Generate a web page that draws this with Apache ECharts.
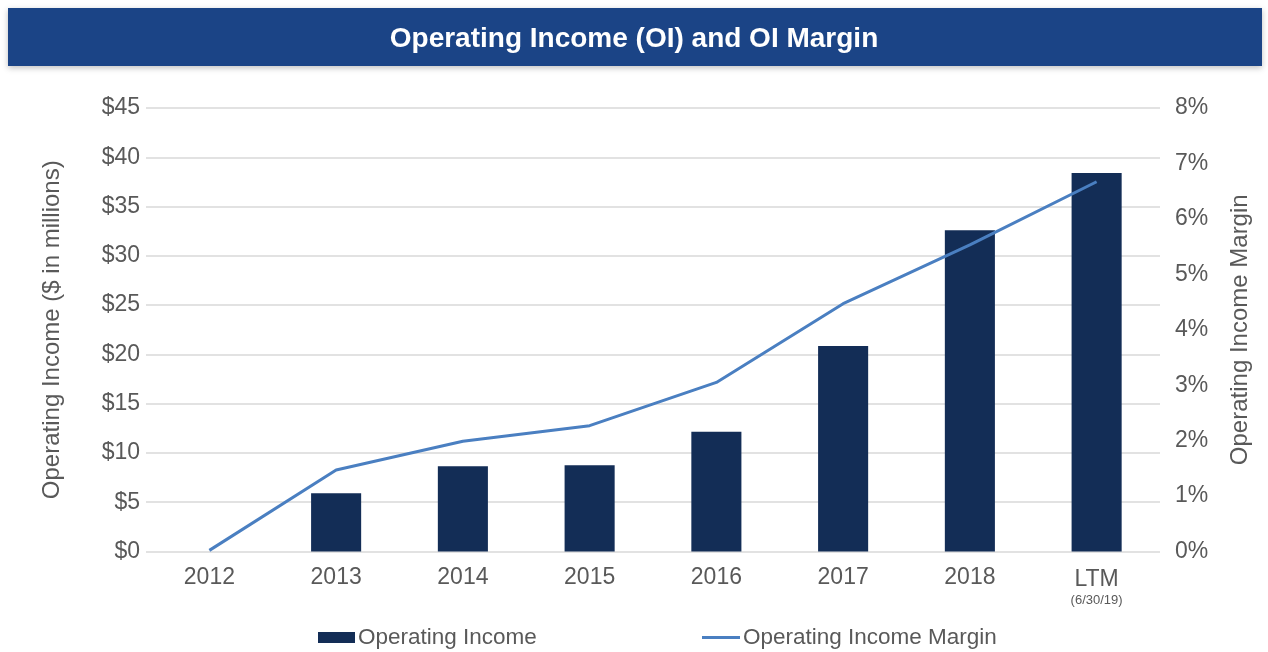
<!DOCTYPE html>
<html>
<head>
<meta charset="utf-8">
<title>Operating Income (OI) and OI Margin</title>
<script src="https://cdn.jsdelivr.net/npm/echarts@6/dist/echarts.min.js"></script>
<style>
  html, body { margin: 0; padding: 0; background: #fff; }
  #main { width: 1268px; height: 652px; }
</style>
</head>
<body>
<div id="main"></div>
<script>
// data
var years = ['2012', '2013', '2014', '2015', '2016', '2017', '2018', 'LTM'];
var operatingIncome = [0, 5.9, 8.65, 8.75, 12.15, 20.85, 32.6, 38.4];   // $ millions
var oiMargin = [0.02, 1.47, 1.99, 2.27, 3.05, 4.47, 5.53, 6.67];        // percent
var leftTicks = { min: 0, max: 45, interval: 5 };
var rightTicks = { min: 0, max: 8, interval: 1 };

var textGray = '#595959';
var gridGray = '#d9d9d9';
var font = 'Liberation Sans, Arial, sans-serif';

var chart = echarts.init(document.getElementById('main'));

var option = {
  backgroundColor: '#fff',
  textStyle: { fontFamily: font },
  graphic: [{
    type: 'rect',
    shape: { x: 8, y: 8, width: 1254, height: 58 },
    style: { fill: '#1b4486', shadowBlur: 6, shadowColor: 'rgba(0,0,0,0.25)', shadowOffsetY: 2 },
    z: 0
  }],
  title: {
    text: 'Operating Income (OI) and OI Margin',
    left: 'center',
    top: 20,
    textStyle: { color: '#fff', fontSize: 28, fontWeight: 'bold', fontFamily: font },
    z: 10
  },
  legend: [{
    data: ['Operating Income'],
    left: 313, top: 621,
    icon: 'rect', itemWidth: 37, itemHeight: 11, itemGap: 4,
    textStyle: { color: textGray, fontSize: 22.5, fontFamily: font, padding: [0, 0, 0, -2] }
  }, {
    data: ['Operating Income Margin'],
    left: 697, top: 621,
    icon: 'rect', itemWidth: 38, itemHeight: 3, itemGap: 4,
    textStyle: { color: textGray, fontSize: 22.5, fontFamily: font, padding: [0, 0, 0, -2] }
  }],
  grid: { left: 146, right: 108, top: 108, bottom: 100.5 },
  xAxis: {
    type: 'category',
    data: years,
    axisLine: { show: false },
    axisTick: { show: false },
    axisLabel: {
      interval: 0,
      color: textGray, fontSize: 23, margin: 15, fontFamily: font,
      formatter: function (v) {
        return v === 'LTM' ? '{a|LTM}\n{b|(6/30/19)}' : v;
      },
      rich: {
        a: { color: textGray, fontSize: 23, fontFamily: font, lineHeight: 26 },
        b: { color: textGray, fontSize: 13, fontFamily: font, lineHeight: 16 }
      }
    }
  },
  yAxis: [{
    type: 'value',
    min: leftTicks.min, max: leftTicks.max, interval: leftTicks.interval,
    name: 'Operating Income ($ in millions)',
    nameLocation: 'middle',
    nameGap: 82,
    nameTextStyle: { color: textGray, fontSize: 24, fontFamily: font },
    axisLine: { show: false },
    axisTick: { show: false },
    axisLabel: { color: textGray, fontSize: 23, margin: 6, fontFamily: font, formatter: '${value}' },
    splitLine: { lineStyle: { color: gridGray, width: 1.5 } }
  }, {
    type: 'value',
    min: rightTicks.min, max: rightTicks.max, interval: rightTicks.interval,
    name: 'Operating Income Margin',
    nameLocation: 'middle',
    nameGap: 68,
    nameRotate: 90,
    nameTextStyle: { color: textGray, fontSize: 24, fontFamily: font },
    axisLine: { show: false },
    axisTick: { show: false },
    axisLabel: { color: textGray, fontSize: 23, margin: 15, fontFamily: font, formatter: '{value}%' },
    splitLine: { show: false }
  }],
  series: [{
    name: 'Operating Income',
    type: 'bar',
    data: operatingIncome,
    barWidth: '39.5%',
    itemStyle: { color: '#132d56' },
    z: 2
  }, {
    name: 'Operating Income Margin',
    type: 'line',
    yAxisIndex: 1,
    data: oiMargin,
    symbol: 'none',
    lineStyle: { color: '#4a7fc1', width: 3 },
    itemStyle: { color: '#4a7fc1' },
    z: 3
  }],
  animation: false
};

chart.setOption(option);
</script>
</body>
</html>
